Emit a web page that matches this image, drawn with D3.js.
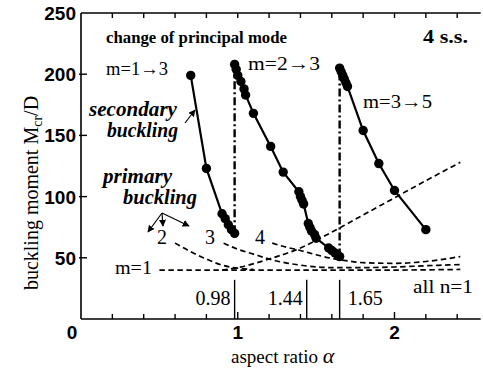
<!DOCTYPE html>
<html><head><meta charset="utf-8">
<script src="https://cdn.jsdelivr.net/npm/d3@7"></script>
<style>
html,body{margin:0;padding:0;background:#fff;}
svg{display:block;}
.serif{font-family:"Liberation Serif","Times New Roman",serif;}
.sans{font-family:"Liberation Sans",Arial,sans-serif;font-weight:bold;}
</style></head>
<body>
<svg id="c" width="483" height="372"></svg>
<script>
// ---- data ----
const xMajorTicks = [0, 1, 2];
const xMinorTicks = [0.2,0.4,0.6,0.8,1.0,1.2,1.4,1.6,1.8,2.0,2.2,2.4];
const yTicks = [50, 100, 150, 200, 250];

// secondary buckling (solid with dots)
const sec13Alpha = [0.70, 0.80, 0.90, 0.92, 0.94, 0.96, 0.98];
const sec13M     = [199, 123, 86, 82, 77, 73, 70];
const sec23Alpha = [0.98, 0.99, 1.00, 1.02, 1.04, 1.05, 1.10, 1.21, 1.29, 1.39, 1.40, 1.41, 1.42, 1.45, 1.46, 1.47, 1.49, 1.50, 1.58, 1.60, 1.62, 1.64, 1.65];
const sec23M     = [208, 204, 199, 194, 188, 183, 168, 141, 120, 104, 100, 97, 94, 78, 75, 72, 69, 66, 58, 56, 54, 52, 51];
const sec35Alpha = [1.65, 1.66, 1.67, 1.68, 1.69, 1.70, 1.80, 1.90, 2.00, 2.20];
const sec35M     = [205, 202, 199, 196, 193, 190, 154, 127, 105, 73];

// primary buckling (dashed)
const flatAlpha = [0.50, 1.00, 1.50, 2.00, 2.42];
const flatM     = [40, 40, 40, 40, 40.5];
const m1Alpha = [0.90, 1.00, 1.20, 1.40, 1.60, 1.80, 2.00, 2.20, 2.42];
const m1M     = [40, 42, 49, 58, 71, 85, 99, 113, 128];
const m2Alpha = [0.60, 0.70, 0.80, 0.90, 1.00, 1.10];
const m2M     = [62, 55, 49, 44, 41.5, 40.5];
const m3Alpha = [0.91, 1.00, 1.10, 1.20, 1.30, 1.40, 1.50, 1.60, 1.80, 2.00, 2.20, 2.42];
const m3M     = [62, 57, 53, 49, 46, 44, 42.5, 42, 42, 42.5, 43.5, 44.5];
const m4Alpha = [1.22, 1.30, 1.40, 1.50, 1.60, 1.70, 1.80, 2.00, 2.20, 2.42];
const m4M     = [62, 59, 56, 52.5, 49.5, 47.5, 46, 45.5, 47, 51];

// mode change boundaries
const modeAlpha = [0.98, 1.44, 1.65];
const modeLabels = ["0.98", "1.44", "1.65"];
const jumpAlpha = [0.98, 1.65];
const jumpFrom  = [70, 51];
const jumpTo    = [207, 203];

// ---- layout ----
const svg = d3.select("#c");
const x = d3.scaleLinear().domain([0, 2.55]).range([81, 81 + 2.55 * 156.75]);
const y = d3.scaleLinear().domain([0, 250]).range([319, 13]);
const zip = (a, b) => a.map((v, i) => [v, b[i]]);

// axes frame
const g = svg.append("g");
g.append("line").attr("x1", x(0)).attr("x2", x(0)).attr("y1", y(0)).attr("y2", y(250))
  .attr("stroke", "#000").attr("stroke-width", 1.6);
g.append("line").attr("x1", x(0)).attr("x2", x(2.55)).attr("y1", y(0)).attr("y2", y(0))
  .attr("stroke", "#000").attr("stroke-width", 1.6);
g.append("line").attr("x1", x(0)).attr("x2", x(2.55)).attr("y1", y(250)).attr("y2", y(250))
  .attr("stroke", "#000").attr("stroke-width", 1.6);

// x ticks bottom (up) & top (down)
xMinorTicks.forEach(t => {
  const len = (Math.abs(t - 1) < 1e-6 || Math.abs(t - 2) < 1e-6) ? 7 : 5;
  g.append("line").attr("x1", x(t)).attr("x2", x(t)).attr("y1", y(0)).attr("y2", y(0) - len)
    .attr("stroke", "#000").attr("stroke-width", 1.4);
  g.append("line").attr("x1", x(t)).attr("x2", x(t)).attr("y1", y(250)).attr("y2", y(250) + 5)
    .attr("stroke", "#000").attr("stroke-width", 1.4);
});
// x tick labels
xMajorTicks.forEach(t => {
  g.append("text").attr("class", "sans").attr("x", t === 0 ? x(t) - 9 : x(t)).attr("y", 339)
    .attr("text-anchor", "middle").attr("font-size", 19).text(t);
});
// y ticks
yTicks.forEach(t => {
  if (t < 250) {
    g.append("line").attr("x1", x(0) - 2).attr("x2", x(0) + 6).attr("y1", y(t)).attr("y2", y(t))
      .attr("stroke", "#000").attr("stroke-width", 1.4);
  }
  g.append("text").attr("class", "sans").attr("x", 76).attr("y", y(t) + 7)
    .attr("text-anchor", "end").attr("font-size", 19).text(t);
});

// axis titles
const yl = svg.append("text").attr("class", "serif").attr("font-size", 20)
  .attr("transform", "translate(38,193) rotate(-90)").attr("text-anchor", "middle");
yl.append("tspan").text("buckling moment  M");
yl.append("tspan").attr("font-size", 14).attr("dy", 4).text("cr");
yl.append("tspan").attr("dy", -4).text("/D");
const xl = svg.append("text").attr("class", "serif").attr("font-size", 19)
  .attr("x", 231).attr("y", 363);
xl.append("tspan").text("aspect ratio ");
xl.append("tspan").attr("font-style", "italic").attr("font-size", 22).text("\u03B1");

// mode boundary lines
modeAlpha.forEach((a, i) => {
  g.append("line").attr("x1", x(a)).attr("x2", x(a)).attr("y1", y(0)).attr("y2", y(32))
    .attr("stroke", "#000").attr("stroke-width", 1.4);
  const right = i === 2;
  g.append("text").attr("class", "serif").attr("font-size", 20)
    .attr("x", right ? x(a) + 8 : x(a) - 4).attr("y", 305)
    .attr("text-anchor", right ? "start" : "end").text(modeLabels[i]);
});

// dashed primary curves
const dashLine = d3.line().x(d => x(d[0])).y(d => y(d[1])).curve(d3.curveMonotoneX);
[zip(flatAlpha, flatM), zip(m1Alpha, m1M), zip(m2Alpha, m2M), zip(m3Alpha, m3M), zip(m4Alpha, m4M)]
  .forEach(d => {
    svg.append("path").attr("d", dashLine(d)).attr("fill", "none").attr("stroke", "#000")
      .attr("stroke-width", 1.7).attr("stroke-dasharray", "5.5,3.5");
  });

// dash-dot jumps
jumpAlpha.forEach((a, i) => {
  svg.append("line").attr("x1", x(a)).attr("x2", x(a)).attr("y1", y(jumpFrom[i])).attr("y2", y(jumpTo[i]))
    .attr("stroke", "#000").attr("stroke-width", 2.4).attr("stroke-dasharray", "8,3,2,3");
});

// secondary curves
const solidLine = d3.line().x(d => x(d[0])).y(d => y(d[1]));
[zip(sec13Alpha, sec13M), zip(sec23Alpha, sec23M), zip(sec35Alpha, sec35M)].forEach(d => {
  svg.append("path").attr("d", solidLine(d)).attr("fill", "none").attr("stroke", "#000")
    .attr("stroke-width", 2.2);
  svg.selectAll(null).data(d).enter().append("circle")
    .attr("cx", p => x(p[0])).attr("cy", p => y(p[1])).attr("r", 4.7).attr("fill", "#000");
});

// arrow marker
const defs = svg.append("defs");
defs.append("marker").attr("id", "ah").attr("viewBox", "0 0 10 10").attr("refX", 9).attr("refY", 5)
  .attr("markerWidth", 7).attr("markerHeight", 7).attr("orient", "auto-start-reverse")
  .attr("markerUnits", "userSpaceOnUse")
  .append("path").attr("d", "M0,0 L10,5 L0,10 z").attr("fill", "#000");

// annotations
const T = (txt, xx, yy, size, opts = {}) => {
  const t = svg.append("text").attr("class", "serif").attr("x", xx).attr("y", yy)
    .attr("font-size", size).text(txt);
  if (opts.italic) t.attr("font-style", "italic");
  if (opts.bold) t.attr("font-weight", "bold");
  if (opts.len) t.attr("textLength", opts.len).attr("lengthAdjust", "spacingAndGlyphs");
  if (opts.anchor) t.attr("text-anchor", opts.anchor);
  return t;
};
T("change of principal mode", 106, 43, 16.5, {bold: true, len: 181});
T("4 s.s.", 423, 43, 18, {bold: true, len: 45});
T("m=1\u21923", 106, 75, 19, {len: 62});
T("m=2\u21923", 248, 70, 19, {len: 72});
T("m=3\u21925", 363, 108, 19, {len: 69});
T("secondary", 89, 116, 20, {italic: true, bold: true, len: 88});
T("buckling", 107, 137, 20, {italic: true, bold: true, len: 71});
T("primary", 103, 183, 20, {italic: true, bold: true, len: 69});
T("buckling", 123, 204, 20, {italic: true, bold: true, len: 74});
T("2", 157, 244, 20);
T("3", 205, 244, 20);
T("4", 255, 244, 20);
T("m=1", 115, 274, 19, {len: 37});
T("all n=1", 413, 293, 19, {len: 60});

// arrows
const arrow = (x1, y1, x2, y2) => svg.append("line").attr("x1", x1).attr("y1", y1)
  .attr("x2", x2).attr("y2", y2).attr("stroke", "#000").attr("stroke-width", 1.2)
  .attr("marker-end", "url(#ah)");
arrow(185, 123, 195, 110);
arrow(162, 213, 148, 232);
arrow(162, 213, 163, 226);
arrow(162, 213, 189, 226);
</script>
</body></html>
